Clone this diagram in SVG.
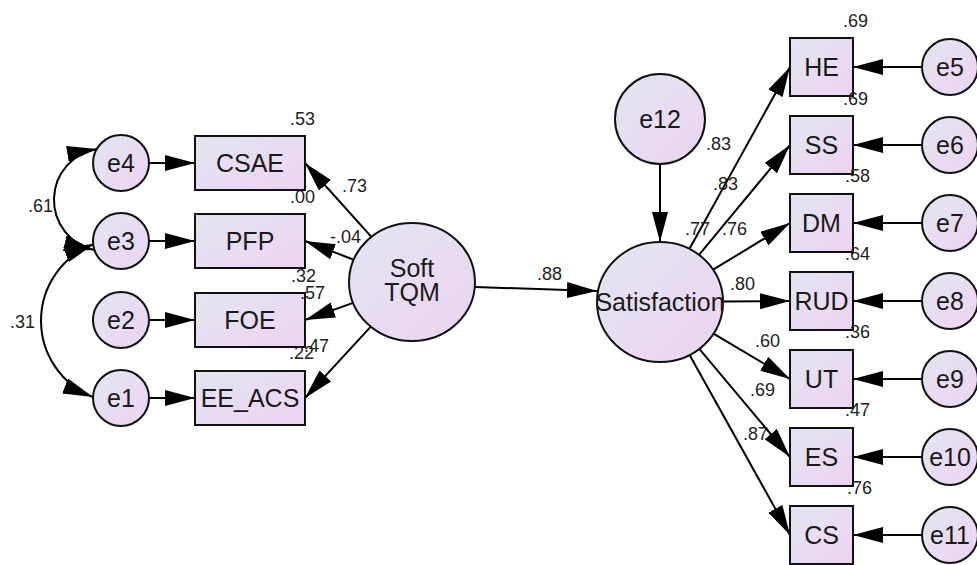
<svg xmlns="http://www.w3.org/2000/svg" width="977" height="565" viewBox="0 0 977 565">
  <defs>
    <linearGradient id="fillGrad" x1="0" y1="0" x2="1" y2="1">
      <stop offset="0" stop-color="#E2E6F0"/>
      <stop offset="1" stop-color="#EDD3F2"/>
    </linearGradient>
    <marker id="ah" viewBox="0 0 30 16" refX="30" refY="8" markerWidth="30" markerHeight="16" markerUnits="userSpaceOnUse" orient="auto-start-reverse">
      <path d="M0,0 L30,8 L0,16 z" fill="#000"/>
    </marker>
    <style>
      .shape { fill: url(#fillGrad); stroke: #111; stroke-width: 2; }
      .path { fill: none; stroke: #000; stroke-width: 2; marker-end: url(#ah); }
      .cov { fill: none; stroke: #000; stroke-width: 2; marker-start: url(#ah); marker-end: url(#ah); }
      .lbl { font-family: "Liberation Sans", Arial, sans-serif; font-size: 25px; fill: #1a1a1a; text-anchor: middle; }
      .num { font-family: "Liberation Sans", Arial, sans-serif; font-size: 18px; fill: #222; }
    </style>
  </defs>
  <rect width="977" height="565" fill="#fff"/>

  <!-- connectors -->
  <g id="connectors">
    <!-- error terms to observed indicators (left) -->
    <line class="path" x1="149" y1="163" x2="195" y2="163"/>
    <line class="path" x1="149" y1="241" x2="195" y2="241"/>
    <line class="path" x1="149" y1="320" x2="195" y2="320"/>
    <line class="path" x1="149" y1="398" x2="195" y2="398"/>
    <!-- covariances between error terms -->
    <path class="cov" d="M97,149 A51.5,51.5 0 0 0 94,250"/>
    <path class="cov" d="M94,244 A82,82 0 0 0 93,397"/>
    <!-- Soft TQM loadings -->
    <line class="path" x1="371.4" y1="236.9" x2="305" y2="163"/>
    <line class="path" x1="353.7" y1="259.7" x2="305" y2="241"/>
    <line class="path" x1="353.1" y1="302.9" x2="305" y2="320"/>
    <line class="path" x1="370.8" y1="326.6" x2="305" y2="398"/>
    <!-- structural path -->
    <line class="path" x1="475" y1="287" x2="597" y2="291"/>
    <!-- disturbance -->
    <line class="path" x1="660" y1="164" x2="660" y2="242"/>
    <!-- Satisfaction loadings -->
    <line class="path" x1="689.4" y1="248.9" x2="790" y2="67"/>
    <line class="path" x1="699" y1="254.9" x2="790" y2="145"/>
    <line class="path" x1="713.1" y1="269.7" x2="790" y2="223"/>
    <line class="path" x1="723" y1="301.5" x2="790" y2="301"/>
    <line class="path" x1="713.5" y1="333.7" x2="790" y2="379"/>
    <line class="path" x1="699.3" y1="348.9" x2="790" y2="457"/>
    <line class="path" x1="689.6" y1="355" x2="790" y2="535"/>
    <!-- error terms to observed indicators (right) -->
    <line class="path" x1="922" y1="67" x2="853" y2="67"/>
    <line class="path" x1="922" y1="145" x2="853" y2="145"/>
    <line class="path" x1="922" y1="223" x2="853" y2="223"/>
    <line class="path" x1="922" y1="301" x2="853" y2="301"/>
    <line class="path" x1="922" y1="379" x2="853" y2="379"/>
    <line class="path" x1="922" y1="457" x2="853" y2="457"/>
    <line class="path" x1="922" y1="535" x2="853" y2="535"/>
  </g>

  <!-- left error terms -->
  <g id="e4"><circle class="shape" cx="121" cy="163" r="28"/><text class="lbl" x="121" y="172">e4</text></g>
  <g id="e3"><circle class="shape" cx="121" cy="241" r="28"/><text class="lbl" x="121" y="250">e3</text></g>
  <g id="e2"><circle class="shape" cx="121" cy="320" r="28"/><text class="lbl" x="121" y="329">e2</text></g>
  <g id="e1"><circle class="shape" cx="121" cy="398" r="28"/><text class="lbl" x="121" y="407">e1</text></g>

  <!-- Soft TQM indicators -->
  <g id="CSAE"><rect class="shape" x="195" y="136" width="110" height="54"/><text class="lbl" x="250" y="172">CSAE</text><text class="num" x="290" y="125">.53</text></g>
  <g id="PFP"><rect class="shape" x="195" y="214" width="110" height="54"/><text class="lbl" x="250" y="250">PFP</text><text class="num" x="290" y="203">.00</text></g>
  <g id="FOE"><rect class="shape" x="195" y="293" width="110" height="54"/><text class="lbl" x="250" y="329">FOE</text><text class="num" x="291" y="282">.32</text></g>
  <g id="EE_ACS"><rect class="shape" x="195" y="371" width="110" height="54"/><text class="lbl" x="250" y="407">EE_ACS</text><text class="num" x="289" y="359">.22</text></g>

  <!-- latent constructs -->
  <g id="SoftTQM"><ellipse class="shape" cx="412" cy="282" rx="63" ry="59"/><text class="lbl" x="412" y="277">Soft</text><text class="lbl" x="412" y="301">TQM</text></g>
  <g id="e12"><circle class="shape" cx="660" cy="119" r="45"/><text class="lbl" x="660" y="128">e12</text></g>
  <g id="Satisfaction"><ellipse class="shape" cx="660" cy="302" rx="63" ry="60"/><text class="lbl" x="660" y="311">Satisfaction</text><text class="num" x="706" y="150">.83</text></g>

  <!-- Satisfaction indicators -->
  <g id="HE"><rect class="shape" x="790" y="38" width="63" height="58"/><text class="lbl" x="821.5" y="76">HE</text><text class="num" x="843" y="27">.69</text></g>
  <g id="SS"><rect class="shape" x="790" y="116" width="63" height="58"/><text class="lbl" x="821.5" y="154">SS</text><text class="num" x="843" y="105">.69</text></g>
  <g id="DM"><rect class="shape" x="790" y="194" width="63" height="58"/><text class="lbl" x="821.5" y="232">DM</text><text class="num" x="845" y="182">.58</text></g>
  <g id="RUD"><rect class="shape" x="790" y="272" width="63" height="58"/><text class="lbl" x="821.5" y="310">RUD</text><text class="num" x="845" y="260">.64</text></g>
  <g id="UT"><rect class="shape" x="790" y="350" width="63" height="58"/><text class="lbl" x="821.5" y="388">UT</text><text class="num" x="845" y="338">.36</text></g>
  <g id="ES"><rect class="shape" x="790" y="428" width="63" height="58"/><text class="lbl" x="821.5" y="466">ES</text><text class="num" x="845" y="416">.47</text></g>
  <g id="CS"><rect class="shape" x="790" y="506" width="63" height="58"/><text class="lbl" x="821.5" y="544">CS</text><text class="num" x="847" y="494">.76</text></g>

  <!-- right error terms -->
  <g id="e5"><circle class="shape" cx="950" cy="67" r="28"/><text class="lbl" x="950" y="76">e5</text></g>
  <g id="e6"><circle class="shape" cx="950" cy="145" r="28"/><text class="lbl" x="950" y="154">e6</text></g>
  <g id="e7"><circle class="shape" cx="950" cy="223" r="28"/><text class="lbl" x="950" y="232">e7</text></g>
  <g id="e8"><circle class="shape" cx="950" cy="301" r="28"/><text class="lbl" x="950" y="310">e8</text></g>
  <g id="e9"><circle class="shape" cx="950" cy="379" r="28"/><text class="lbl" x="950" y="388">e9</text></g>
  <g id="e10"><circle class="shape" cx="950" cy="457" r="28"/><text class="lbl" x="950" y="466">e10</text></g>
  <g id="e11"><circle class="shape" cx="950" cy="535" r="28"/><text class="lbl" x="950" y="544">e11</text></g>

  <!-- standardized estimates on paths -->
  <g id="estimates">
    <text class="num" x="28" y="212">.61</text>
    <text class="num" x="10" y="328">.31</text>
    <text class="num" x="342" y="192">.73</text>
    <text class="num" x="330" y="243">-.04</text>
    <text class="num" x="300" y="299">.57</text>
    <text class="num" x="304" y="352">.47</text>
    <text class="num" x="537" y="280">.88</text>
    <text class="num" x="713" y="190">.83</text>
    <text class="num" x="685" y="235">.77</text>
    <text class="num" x="722" y="235">.76</text>
    <text class="num" x="730" y="290">.80</text>
    <text class="num" x="755" y="347">.60</text>
    <text class="num" x="750" y="396">.69</text>
    <text class="num" x="743" y="440">.87</text>
  </g>
</svg>
